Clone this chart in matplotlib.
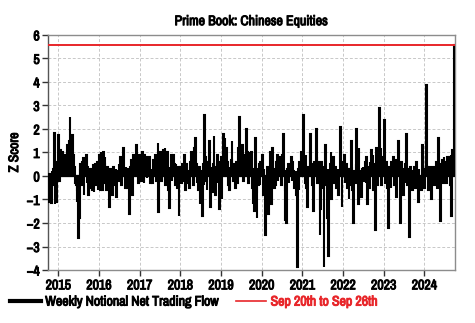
import pandas as pd
import matplotlib
matplotlib.use("Agg")
import matplotlib.pyplot as plt
import matplotlib.dates as mdates
import matplotlib.patheffects as pe
from matplotlib import font_manager
from matplotlib.lines import Line2D

# Prefer a narrow face when one is installed
fonts = font_manager.fontManager.ttflist
names = sorted({f.name for f in fonts})
narrow = [n for n in names if "Narrow" in n or "Condensed" in n]
plt.rcParams['font.family'] = narrow[:1] + ['Liberation Sans', 'DejaVu Sans']
plt.rcParams['font.weight'] = 'bold'


def _weight(w):
    return w if isinstance(w, int) else {"bold": 700, "heavy": 800, "black": 900}.get(w, 400)


has_bold = bool(narrow) and any(f.name == narrow[0] and _weight(f.weight) >= 600 for f in fonts)

# Weekly z-scores of notional net trading flow, one list per calendar year (Thursday week-ends)
z_2014 = [-0.5, -1.1, 0.1, -0.9, -1.15, 0.2, -0.4, 0.3, 1.84, -1.2, 0.6, -1.1, 0.3]
z_2015 = [1.75, 0.9, -0.2, 1.1, 0.5, 1.0, 0.3, 0.8, 0.6, 0.9, 0.2, 0.7, 1.3, 0.5, 1.5, 2.5,
          1.0, 1.7, 1.75, 0.6, 0.9, 0.4, -0.3, -0.4, -1.1, -0.6, -2.65, -1.8, 0.3, 0.5, -0.4,
          0.6, 0.75, -0.8, 0.7, 0.2, 0.9, -0.3, 0.4, -0.8, 0.3, -0.5, 0.2, 0.3, -0.6, 0.45,
          -0.7, 0.3, 0.5, -0.4, 0.6, -0.6, 0.4]
z_2016 = [0.9, -0.6, 1.0, 0.3, -0.6, 1.0, 0.5, 0.8, -0.3, -0.6, 0.4, 0.2, -0.4, -1.3, 0.3,
          -0.5, 0.3, -0.8, 0.4, 0.1, -0.4, 0.3, -0.9, 0.2, -0.2, 0.5, 0.2, 0.8, -0.4, 0.5,
          0.8, 1.2, 0.1, -0.5, 0.4, -0.2, -0.5, 0.3, -1.6, -0.3, 0.4, 0.7, -0.8, 0.5, 0.9,
          0.3, 0.6, 1.3, 0.4, 0.9, -0.3, 0.6]
z_2017 = [0.3, 0.9, -0.2, 1.0, 0.5, -0.3, 0.9, 0.4, 0.8, -0.1, 0.6, 0.2, 0.8, -0.3, 0.3,
          0.2, -0.3, 0.7, 0.4, 0.1, 0.9, -0.2, 0.5, 1.4, -1.55, 0.6, 1.0, 0.4, -0.2, 0.9,
          1.1, 0.3, 1.2, -0.4, 0.6, 1.0, -0.6, 0.4, -1.35, 0.2, 0.9, -0.2, 0.3, 0.9, 0.5,
          -0.4, 0.5, 0.2, -0.5, 0.4, -1.7, 0.3]
z_2018 = [0.4, -0.3, 0.5, 0.2, -0.2, 0.9, -0.6, 0.3, 0.5, 0.2, -0.3, -0.5, 0.4, 0.6, 1.0,
          0.3, 0.9, -0.4, 1.2, 1.6, 0.5, -0.3, 0.3, -0.6, 0.4, -1.2, 0.2, -0.5, -1.7, 0.5,
          -0.4, 2.6, 0.8, -0.2, -0.6, 0.6, 0.2, 1.5, -1.3, 0.4, 0.3, -0.7, 0.5, 1.7, 0.2,
          -0.8, 0.4, 0.9, -0.3, 0.5, -1.4, 0.6]
z_2019 = [0.8, -1.0, 0.5, 1.8, 0.9, 1.6, 0.3, 1.2, 0.6, -0.4, 0.4, -0.6, 0.2, 0.7, 1.5,
          0.3, -0.2, 0.5, -0.5, 0.3, 0.6, -0.3, 1.2, 0.8, 2.5, 0.4, 0.9, 1.3, 0.3, -0.2,
          0.9, 0.5, 0.2, 2.0, 1.0, -0.3, 0.4, 1.0, 0.2, 1.0, -0.5, -1.2, 0.3, -1.5, 1.6,
          -0.7, -1.8, 0.3, -0.4, 0.5, -0.4, 0.6]
z_2020 = [0.5, 0.9, -0.8, 0.3, -0.5, -2.5, -1.2, -0.6, 0.4, -1.6, -0.3, 1.0, 0.5, -1.2, 1.2,
          0.3, -0.5, 0.2, -0.4, 0.6, 0.9, -0.2, 0.4, 0.8, 0.4, -0.4, 0.3, 0.9, 1.8, 0.2,
          -1.9, -0.6, -2.0, 0.3, 0.5, -0.3, 0.1, 0.4, 0.8, -0.2, 0.6, 0.2, -0.5, -0.3, 0.2,
          -0.8, -3.85, 0.3, -0.6, 0.6, 0.3, 1.0, 0.4]
z_2021 = [0.4, 2.6, 0.5, -0.3, 0.9, -0.5, -1.3, 0.4, 0.2, 1.1, 1.8, 0.5, -0.4, 0.3, -1.5,
          0.6, 0.3, 2.0, 0.8, -0.3, 0.6, 0.2, -2.5, -1.4, 0.6, 0.2, -0.5, -3.85, 0.4, 1.3,
          -0.4, -1.8, 0.3, -3.4, -0.6, 0.5, 1.0, -1.0, 0.4, 0.8, -0.3, 0.2, 0.4, -0.5, 0.1,
          0.3, -0.8, 0.2, 2.1, 0.5, -1.3, 0.6]
z_2022 = [0.3, 0.9, -0.3, 0.2, 0.5, -0.5, 0.3, -1.0, 0.3, -0.4, 1.5, 0.4, -0.6, -2.0, 0.2,
          -0.3, 0.5, 2.0, 0.3, -1.2, 1.2, 0.2, -0.4, -0.9, 0.3, 0.4, -0.2, 0.0, 0.6, -0.3,
          0.8, -1.2, 0.4, -0.5, 0.6, 0.2, 1.1, 0.4, 0.9, -0.6, 0.5, -2.3, 1.2, 0.3, -0.4,
          0.9, 2.9, 0.6, 1.2, -0.4, 0.5, 0.8]
z_2023 = [0.5, 2.4, -0.3, 0.6, -0.5, 0.3, -2.2, 0.4, 0.2, -0.5, 0.6, 0.2, 0.8, -0.4, 0.5,
          0.7, -0.9, 0.3, 0.2, 1.5, 0.4, -2.0, 0.6, 0.2, -0.3, -0.8, 0.3, -0.3, 0.5, 1.8,
          -0.4, 0.3, 0.2, -2.6, 0.4, -0.3, 0.2, -0.6, 0.2, 0.4, -0.5, 0.3, 0.6, -0.2, -1.1,
          0.3, -0.4, 0.0, -0.6, 1.3, 0.5, -0.5]
z_2024 = [-0.5, 0.3, 0.8, 3.85, 0.4, -0.6, 0.4, 0.0, 0.3, -1.0, 0.4, 0.2, 0.3, -0.4, 0.4,
          0.6, 0.3, -0.5, 1.6, 0.4, -1.9, 0.2, 0.5, 0.7, -0.3, 0.8, 0.5, 0.6, -0.3, 0.8,
          0.5, 0.2, 0.8, -0.4, 0.9, -1.7, 1.1, 0.7, 5.55]

first_week = "2014-10-02"
series_label = "Weekly Notional Net Trading Flow"
latest_label = "Sep 20th to Sep 26th"

values = (z_2014 + z_2015 + z_2016 + z_2017 + z_2018 + z_2019 + z_2020
          + z_2021 + z_2022 + z_2023 + z_2024)
weeks = pd.date_range(first_week, periods=len(values), freq="7D")
flow = pd.Series(values, index=weeks)

RED = "#e8262a"
SPINE = "#8c8c8c"
FS = 10 if narrow else 8.5

fig = plt.figure(figsize=(4.75, 3.23), dpi=100)
ax = fig.add_axes([0.101, 0.164, 0.857, 0.728])

ax.bar(flow.index, flow.values, width=7, color="black", edgecolor="black",
       linewidth=1.5, zorder=3)
ax.axhline(flow.iloc[-1], color=RED, lw=1.4, zorder=4)

ax.set_ylim(-4, 6)
ax.set_yticks(range(-4, 7))
ax.set_xlim(pd.Timestamp("2014-10-01"), pd.Timestamp("2024-10-04"))
ax.xaxis.set_major_locator(mdates.YearLocator())
ax.xaxis.set_major_formatter(mdates.DateFormatter("%Y"))

ax.grid(True, color="#c8c8c8", linestyle=(0, (3, 2)), linewidth=0.7, zorder=0)
for side in ax.spines.values():
    side.set_color(SPINE)
    side.set_linewidth(1.0)
ax.spines["left"].set_color("#555555")
ax.tick_params(axis="both", colors="#333333", labelcolor="black",
               labelsize=FS, length=4, width=1, pad=2)

ax.set_title("Prime Book: Chinese Equities", fontsize=FS, fontweight="bold", pad=7)
ax.set_ylabel("Z Score", fontsize=FS, fontweight="bold", labelpad=4)

handles = [Line2D([], [], color="black", lw=3),
           Line2D([], [], color=RED, lw=1.2)]
leg = fig.legend(handles, [series_label, latest_label], loc="upper left",
                 bbox_to_anchor=(0.022, 0.088), ncol=2, frameon=False,
                 fontsize=FS, handlelength=2.2, handletextpad=0.3,
                 columnspacing=1.2, borderaxespad=0, borderpad=0)
for txt, col in zip(leg.get_texts(), ["black", RED]):
    txt.set_color(col)

# thicken the strokes when the narrow face has no bold weight
texts = ([ax.title, ax.yaxis.label] + ax.get_xticklabels() + ax.get_yticklabels()
         + leg.get_texts())
for t in texts:
    t.set_fontweight("bold")
    if narrow and not has_bold:
        t.set_path_effects([pe.withStroke(linewidth=0.7, foreground=t.get_color())])

fig.savefig("out.png", dpi=100)
